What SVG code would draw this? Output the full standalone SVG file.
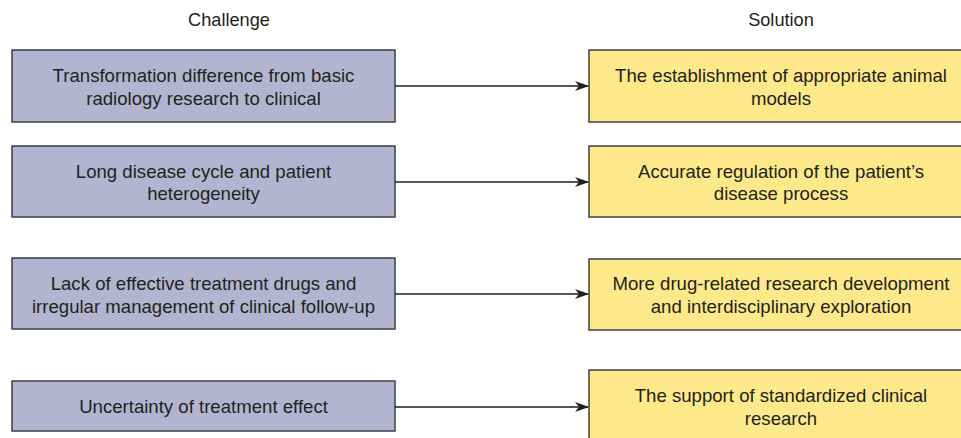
<svg xmlns="http://www.w3.org/2000/svg" width="961" height="438" viewBox="0 0 961 438">
<defs>
<marker id="ah" markerWidth="14" markerHeight="10" refX="13" refY="5" orient="auto" markerUnits="userSpaceOnUse">
<path d="M0,0 L14,5 L0,10 L4,5 Z" fill="#231f20"/>
</marker>
<style>
.t{font-family:"Liberation Sans",Arial,sans-serif;font-size:18.6px;fill:#231f20;text-anchor:middle}
.h{font-size:18.2px}
.c{fill:#b3b5d0;stroke:#3f3f44;stroke-width:1.5}
.s{fill:#fde98a;stroke:#3f3f44;stroke-width:1.5}
.e{stroke:#231f20;stroke-width:1.5;fill:none}
</style>
</defs>
<rect width="961" height="438" fill="#ffffff"/>
<text class="t h" x="229" y="26">Challenge</text>
<text class="t h" x="781" y="26">Solution</text>
<g id="c1"><rect class="c" x="12" y="50" width="383" height="72"/><text class="t" x="203.5" y="82">Transformation difference from basic</text><text class="t" x="203.5" y="105">radiology research to clinical</text></g>
<g id="c2"><rect class="c" x="12" y="146" width="383" height="71"/><text class="t" x="203.5" y="178">Long disease cycle and patient</text><text class="t" x="203.5" y="200">heterogeneity</text></g>
<g id="c3"><rect class="c" x="12" y="258" width="383" height="71"/><text class="t" x="203.5" y="290">Lack of effective treatment drugs and</text><text class="t" x="203.5" y="313">irregular management of clinical follow-up</text></g>
<g id="c4"><rect class="c" x="12" y="381" width="383" height="50"/><text class="t" x="203.5" y="413">Uncertainty of treatment effect</text></g>
<g id="s1"><rect class="s" x="589" y="50" width="383" height="72"/><text class="t" x="781" y="82">The establishment of appropriate animal</text><text class="t" x="781" y="105">models</text></g>
<g id="s2"><rect class="s" x="589" y="146" width="383" height="71"/><text class="t" x="781" y="178">Accurate regulation of the patient’s</text><text class="t" x="781" y="200">disease process</text></g>
<g id="s3"><rect class="s" x="589" y="259" width="383" height="71"/><text class="t" x="781" y="290">More drug-related research development</text><text class="t" x="781" y="313">and interdisciplinary exploration</text></g>
<g id="s4"><rect class="s" x="589" y="370" width="383" height="75"/><text class="t" x="781" y="402">The support of standardized clinical</text><text class="t" x="781" y="425">research</text></g>
<g id="edges">
<line class="e" x1="395" y1="86" x2="588" y2="86" marker-end="url(#ah)"/>
<line class="e" x1="395" y1="182" x2="588" y2="182" marker-end="url(#ah)"/>
<line class="e" x1="395" y1="294" x2="588" y2="294" marker-end="url(#ah)"/>
<line class="e" x1="395" y1="407" x2="588" y2="407" marker-end="url(#ah)"/>
</g>
</svg>
